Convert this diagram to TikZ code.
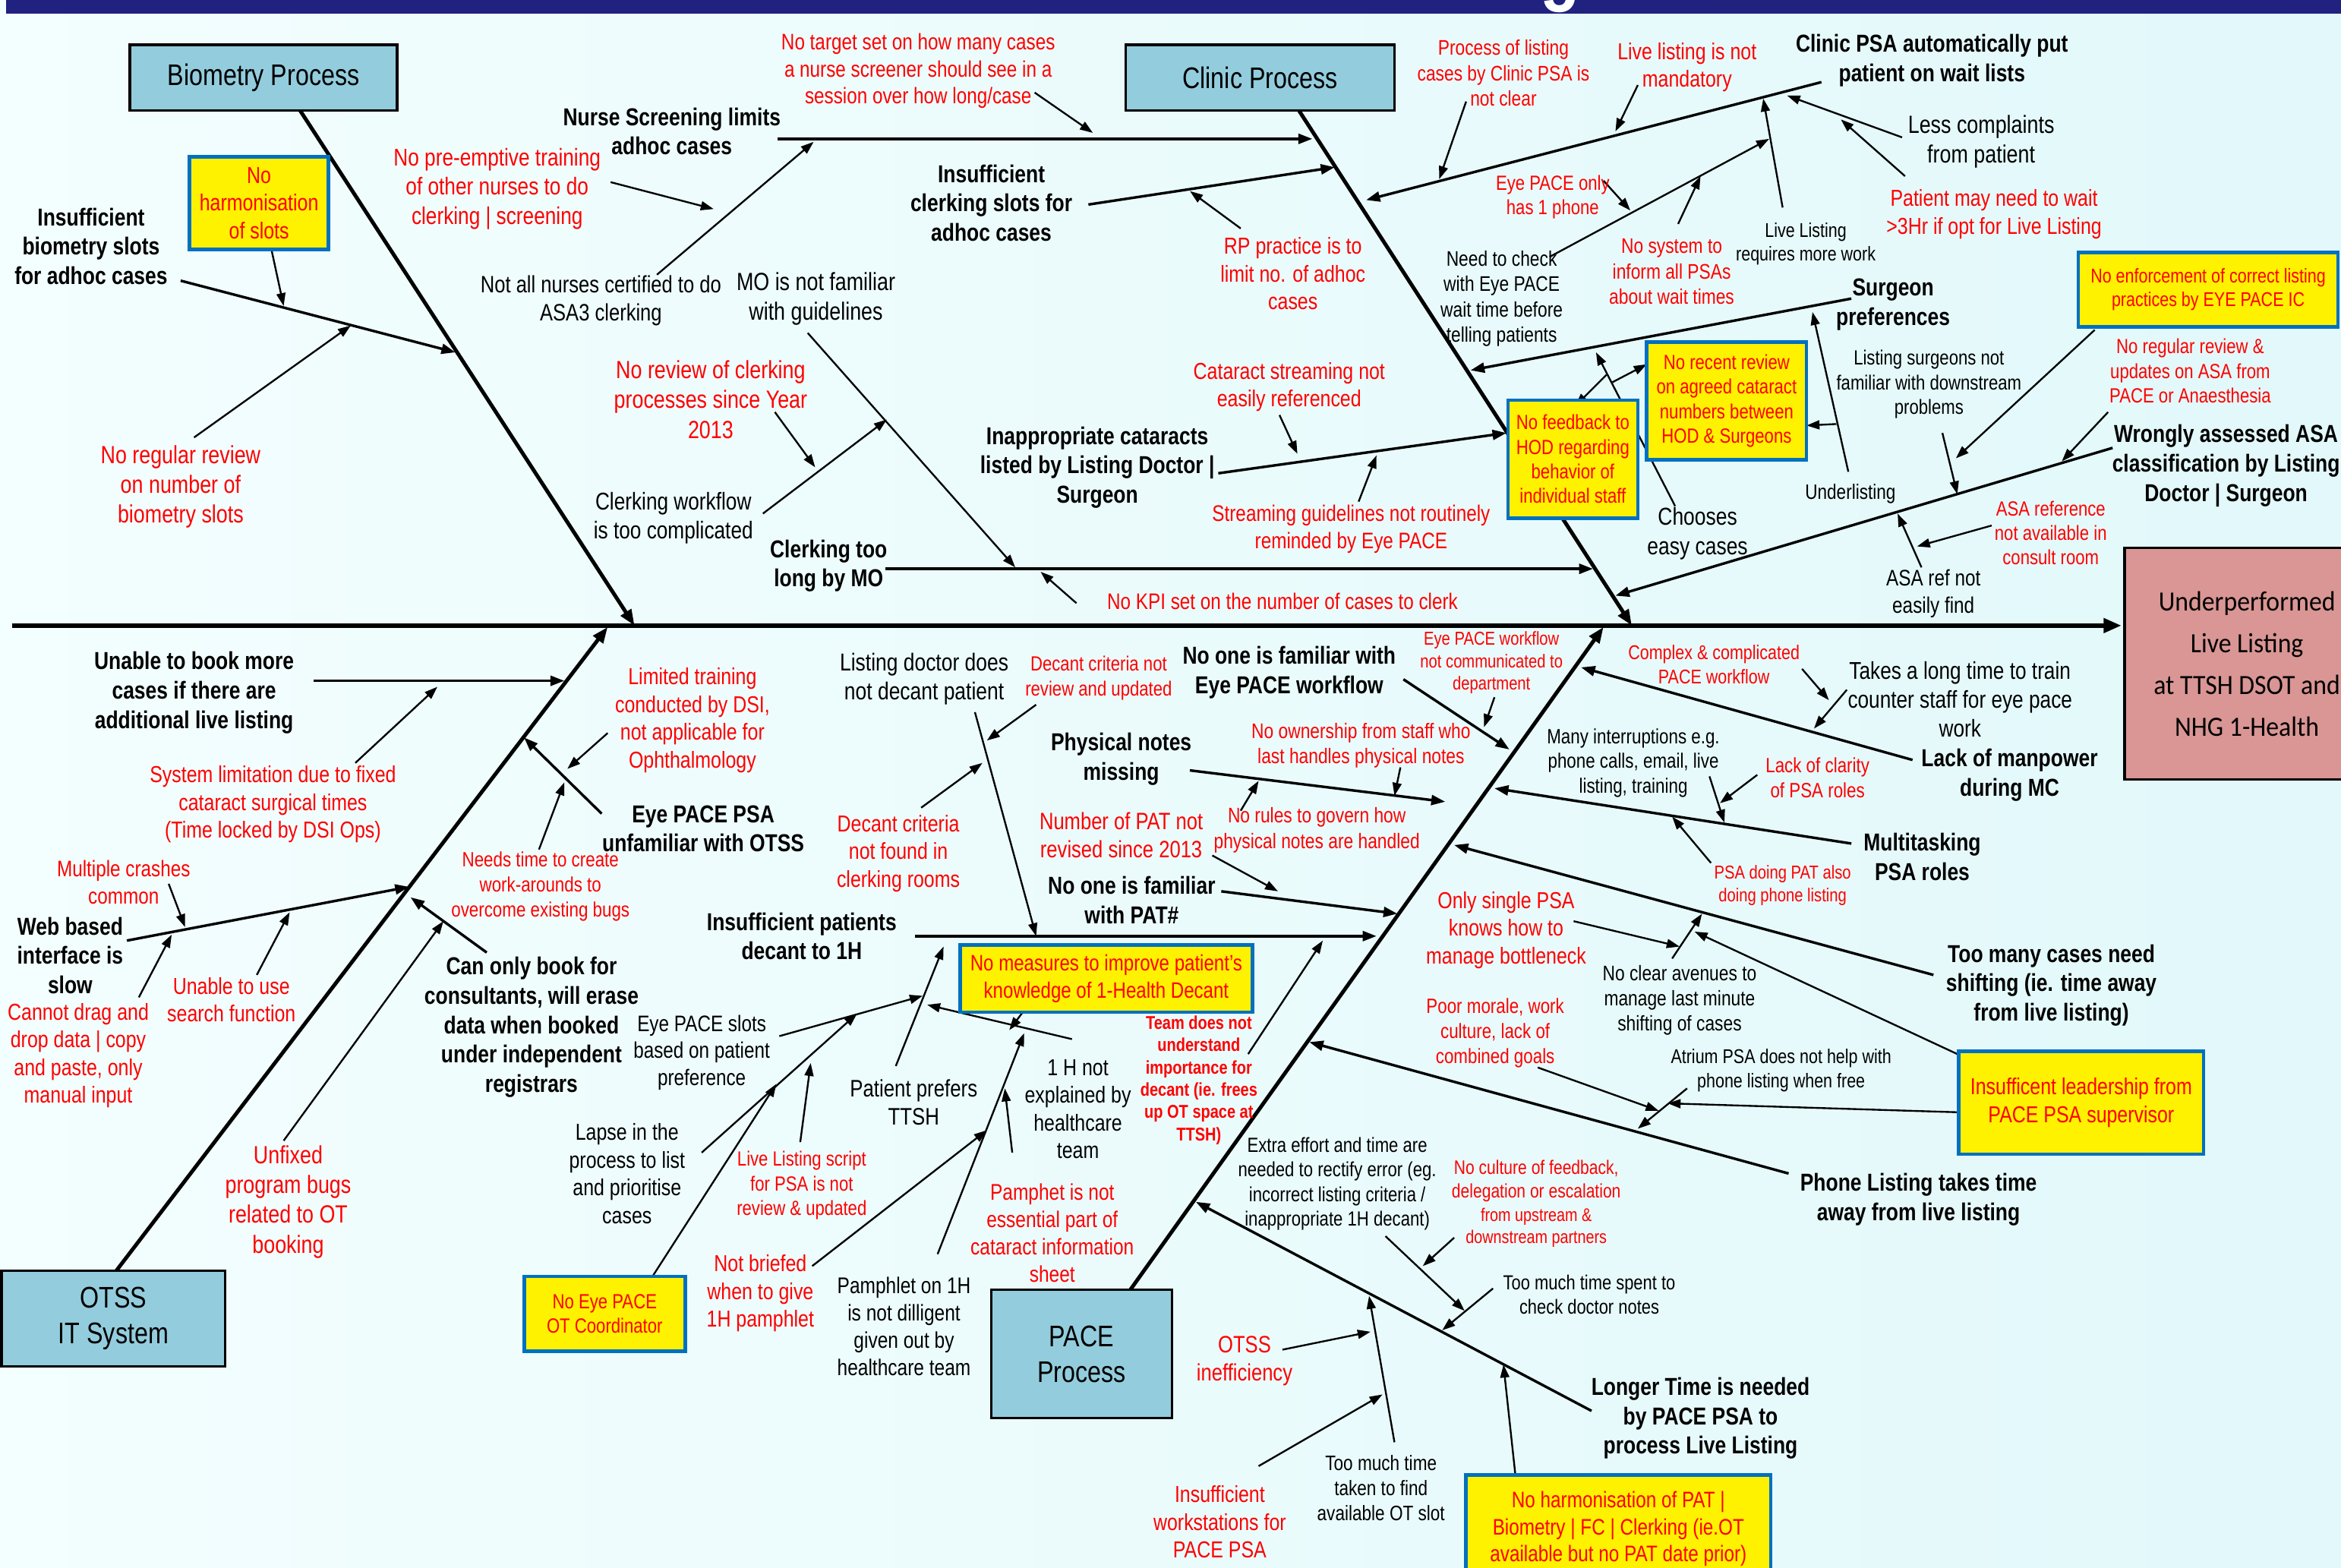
\documentclass[tikz,border=0pt]{standalone}
\usepackage{fontspec}
\setmainfont{Liberation Sans}[FakeStretch=0.82]
\newfontfamily\calfont{Carlito}[FakeStretch=0.92]
\usepackage{tikz}
\usetikzlibrary{arrows.meta}
\definecolor{NavyBar}{RGB}{33,33,128}
\definecolor{CatBlue}{RGB}{147,205,221}
\definecolor{EffPink}{RGB}{217,150,148}
\definecolor{BoxBlue}{RGB}{0,112,192}
\definecolor{BgLeft}{RGB}{243,254,254}
\definecolor{BgRight}{RGB}{226,248,250}
\newcommand\fsz[1]{\fontsize{#1}{\fpeval{1.2*#1}}\selectfont}
\tikzset{
  txt/.style={align=center, inner sep=0pt, font=\fsz{#1}},
  bld/.style={align=center, inner sep=0pt, font=\fsz{#1}\bfseries},
  rtxt/.style={txt=#1, text=red},
  rbld/.style={bld=#1, text=red},
  boxsz/.style 2 args={minimum width=#1*0.75pt, minimum height=#2*0.75pt},
  catbox/.style={draw, line width=1.2pt, fill=CatBlue, inner sep=0pt, align=center, font=\fsz{15}},
  ybox/.style={draw=BoxBlue, line width=1.8pt, fill=yellow, text=red, inner sep=0pt, align=center, font=\fsz{#1}},
  spine/.style={line width=2.25pt, -{Triangle[length=9pt,width=7pt]}},
  bone/.style={line width=1.9pt, -{Triangle[length=8pt,width=6pt]}},
  limb/.style={line width=1.3pt, -{Triangle[length=7pt,width=5pt]}},
  twig/.style={line width=0.9pt, -{Triangle[length=6.5pt,width=4.5pt]}},
}

\begin{document}
\begin{tikzpicture}[x=0.75pt,y=0.75pt,yscale=-1,xscale=1]
\useasboundingbox (0,0) rectangle (1568,1050);

%Background
\shade[left color=BgLeft, right color=BgRight] (0,0) rectangle (1568,1050);
\fill[NavyBar] (4,0) rectangle (1568,9);
\begin{scope}
\clip (4,0) rectangle (1568,9);
\node[white, font=\fontsize{40}{40}\selectfont\bfseries, anchor=base, inner sep=0pt] (titleG) at (1045,-3) {g};
\end{scope}

%Spine
\coordinate (spA) at (8,419);
\coordinate (spB) at (1421,419);
\draw[spine] (spA) -- (spB);

%Bones
\foreach \n/\xa/\ya/\xb/\yb in {bio/201/74/425/419, cln/870/74/1093/419, ots/78/851/407/420, pac/757/864/1074/420}{
  \coordinate (\n-a) at (\xa,\ya);
  \coordinate (\n-b) at (\xb,\yb);
  \draw[bone] (\n-a) -- (\n-b);
}

%Straight Lines (causes)
\foreach \n/\xa/\ya/\xb/\yb in {
  insBio/121/188/305/236, nurse/521/93/879/93, insClk/729/137/894/112,
  clkLong/593/381/1067/381, inapp/816/317/1009/290, psa/1220/55/915/134,
  surg/1240/200/985/248, wrong/1415/300/1082/399, unable/210/456/378/456,
  web/85/630/274/594, can/326/638/275/601, eyePsa/403/545/351/494,
  famWf/940/455/1011/502, phys/797/516/968/537, famPat/818/597/936/612,
  insDec/613/627/922/627, lack/1281/509/1059/447, multi/1240/565/1001/528,
  tooMany/1295/653/974/566, phone/1198/786/877/698, longer/1066/945/801/805}{
  \coordinate (\n-a) at (\xa,\ya);
  \coordinate (\n-b) at (\xb,\yb);
  \draw[limb] (\n-a) -- (\n-b);
}

%Straight Lines (sub causes)
\foreach \n/\xa/\ya/\xb/\yb in {
  harm/182/168/190/205, noReg/130/293/235/218, target/693/62/732/89,
  pre/409/122/478/140, notAll/440/184/545/95, rp/831/153/797/128,
  mo/541/223/680/380, wf/511/344/594/281, rev/519/276/546/313,
  kpi/721/404/697/383, cat/857/278/869/304, str/910/336/922/305,
  proc/982/68/964/120, live/1097/57/1082/88, less/1274/92/1197/64,
  wait/1276/118/1233/80, req/1194/139/1181/66, chk/1038/172/1185/93,
  one/1074/121/1092/141, sys/1124/150/1139/118, ls/1301/290/1311/331,
  under/1238/316/1214/209, underRec/1230/284/1210/285, cho/1122/339/1069/236,
  choFb/1076/251/1055/272, choRec/1080/256/1103/244, enf/1403/221/1310/307,
  asaRev/1412/276/1381/309, asaRef/1287/380/1271/344, asaNa/1334/352/1284/366,
  sysLim/238/511/293/460, crash/113/592/124/621, drag/93/668/115/626,
  search/172/653/194/611, unfix/190/764/297/617, lim/407/491/380/515,
  needs/361/569/378/524, ewf/1001/467/994/487, own/938/514/934/533,
  rules/831/543/843/523, patNot/812/573/856/597, ldoc/653/477/694/627,
  dcn/694/472/661/496, dcf/617/541/658/511, slots/522/694/618/667,
  lapse/470/772/574/679, otc/437/855/520/726, scr/536/765/543/712,
  pref/600/714/632/634, oneH/718/696/621/673, meas/685/678/676/690,
  team/836/706/886/630, pam/628/840/686/692, pamt/678/772/673/729,
  brief/544/848/661/757, cplx/1207/448/1225/469, takes/1237/462/1215/488,
  many/1145/520/1155/551, clar/1177/519/1152/538, doing/1146/578/1120/547,
  single/1054/617/1125/634, clear/1120/642/1140/612, leadTop/1311/706/1135/624,
  leadSide/1312/745/1117/739, atr/1130/729/1097/756, morale/1030/715/1111/744,
  extra/928/828/981/878, spent/1000/863/966/891, cult/974/829/953/848,
  otss/859/904/918/892, taken/934/966/917/868, work/843/982/926/934,
  harmPat/1015/988/1007/914}{
  \coordinate (\n-a) at (\xa,\ya);
  \coordinate (\n-b) at (\xb,\yb);
  \draw[twig] (\n-a) -- (\n-b);
}

%Category boxes
\node[catbox, boxsz={179}{44}] (bioBox) at (176.5,52) {Biometry Process};
\node[catbox, boxsz={180}{44}] (clnBox) at (844,52) {Clinic Process};
\node[catbox, boxsz={150}{64}] (otsBox) at (76,883) {OTSS\\IT System};
\node[catbox, boxsz={121}{86}] (pacBox) at (724.5,907) {PACE\\Process};
\node[draw, line width=1.2pt, fill=EffPink, inner sep=0pt, align=center, boxsz={164}{155}, font=\calfont\fontsize{14}{21}\selectfont] (effect) at (1505,444.5) {Underperformed\\Live Listing\\at TTSH DSOT and\\NHG 1-Health};

%Yellow boxes
\node[ybox=11.6, boxsz={93}{62}] (yHarm) at (173.5,136) {No\\harmonisation\\of slots};
\node[ybox=10.3, boxsz={87}{79}] (yFeedback) at (1053.5,307.5) {No feedback to\\HOD regarding\\behavior of\\individual staff};
\node[ybox=10.3, boxsz={107}{79}] (yRecent) at (1156.5,268.5) {No recent review\\on agreed cataract\\numbers between\\HOD \& Surgeons};
\node[ybox=10.0, boxsz={174}{50}] (yEnforce) at (1479,194) {No enforcement of correct listing\\practices by EYE PACE IC};
\node[ybox=11.2, boxsz={196}{45}] (yMeasures) at (741,655.5) {No measures to improve patient's\\knowledge of 1-Health Decant};
\node[ybox=10.3, boxsz={108}{50}] (yOTcoord) at (405,880) {No Eye PACE\\OT Coordinator};
\node[ybox=11.6, boxsz={164}{69}] (yLeader) at (1394,738.5) {Insufficent leadership from\\PACE PSA supervisor};
\node[ybox=11.3, boxsz={204}{72}] (yHarmPat) at (1084,1024) {No harmonisation of PAT |\\Biometry | FC | Clerking (ie.OT\\available but no PAT date prior)};

% Text Node (main causes)
\node[bld=12.3] (bInsBio) at (61,165) {Insufficient\\biometry slots\\for adhoc cases};
\node[bld=12.3] (bNurse) at (450,88) {Nurse Screening limits\\adhoc cases};
\node[bld=12.3] (bInsClerk) at (664,136) {Insufficient\\clerking slots for\\adhoc cases};
\node[bld=12.3] (bClerkLong) at (555,379) {Clerking too\\long by MO};
\node[bld=12.3] (bInapp) at (735,313) {Inappropriate cataracts\\listed by Listing Doctor |\\Surgeon};
\node[bld=12.3] (bClinicPSA) at (1294,40.5) {Clinic PSA automatically put\\patient on wait lists};
\node[bld=12.3] (bSurgeon) at (1268,204) {Surgeon\\preferences};
\node[bld=12.3] (bWrong) at (1491,312) {Wrongly assessed ASA\\classification by Listing\\Doctor | Surgeon};
\node[bld=12.3] (bUnable) at (130,464) {Unable to book more\\cases if there are\\additional live listing};
\node[bld=12.3] (bWeb) at (47,640) {Web based\\interface is\\slow};
\node[bld=12.3] (bCanOnly) at (356,688) {Can only book for\\consultants, will erase\\data when booked\\under independent\\registrars};
\node[bld=12.3] (bEyePSA) at (471,555) {Eye PACE PSA\\unfamiliar with OTSS};
\node[bld=12.3] (bFamWork) at (863.5,450.5) {No one is familiar with\\Eye PACE workflow};
\node[bld=12.3] (bPhys) at (751,508.5) {Physical notes\\missing};
\node[bld=12.3] (bFamPAT) at (758,603) {No one is familiar\\with PAT\#};
\node[bld=12.3] (bInsDecant) at (537,627) {Insufficient patients\\decant to 1H};
\node[bld=12.3] (bLack) at (1346,519) {Lack of manpower\\during MC};
\node[bld=12.3] (bMulti) at (1287.5,574) {Multitasking\\PSA roles};
\node[bld=12.3] (bTooMany) at (1374,660) {Too many cases need\\shifting (ie. time away\\from live listing)};
\node[bld=12.3] (bPhone) at (1285,803.5) {Phone Listing takes time\\away from live listing};
\node[bld=12.3] (bLonger) at (1139,950) {Longer Time is needed\\by PACE PSA to\\process Live Listing};

% Text Node (red)
\node[rtxt=12.5] (rNoReg) at (121,326) {No regular review\\on number of\\biometry slots};
\node[rtxt=12.2] (rPreempt) at (333,126.5) {No pre-emptive training\\of other nurses to do\\clerking | screening};
\node[rtxt=11.3] (rTarget) at (615,47.5) {No target set on how many cases\\a nurse screener should see in a\\session over how long/case};
\node[rtxt=12.5] (rNoReview) at (476,267.6) {No review of clerking\\processes since Year\\2013};
\node[rtxt=11.6] (rRP) at (866,183.3) {RP practice is to\\limit no. of adhoc\\cases};
\node[rtxt=11.6] (rCatStream) at (863.5,259.3) {Cataract streaming not\\easily referenced};
\node[rtxt=11.3] (rStream) at (905,354.5) {Streaming guidelines not routinely\\reminded by Eye PACE};
\node[rtxt=11.3] (rNoKPI) at (859,403) {No KPI set on the number of cases to clerk};
\node[rtxt=10.6] (rProcess) at (1007,49) {Process of listing\\cases by Clinic PSA is\\not clear};
\node[rtxt=11.6] (rLiveNot) at (1130,45) {Live listing is not\\mandatory};
\node[rtxt=11.6] (rWait) at (1335.6,143.4) {Patient may need to wait\\>3Hr if opt for Live Listing};
\node[rtxt=10.3] (rEyeOnly) at (1040,132) {Eye PACE only\\has 1 phone};
\node[rtxt=10.6] (rNoSystem) at (1119.7,182) {No system to\\inform all PSAs\\about wait times};
\node[rtxt=10.3] (rNoRegASA) at (1467,248.5) {No regular review \&\\updates on ASA from\\PACE or Anaesthesia};
\node[rtxt=10.3] (rASAref) at (1373.6,357) {ASA reference\\not available in\\consult room};
\node[rtxt=11.6] (rSysLim) at (182.8,538.7) {System limitation due to fixed\\cataract surgical times\\(Time locked by DSI Ops)};
\node[rtxt=11.3] (rCrash) at (82.8,590.8) {Multiple crashes\\common};
\node[rtxt=11.6] (rDrag) at (52.4,707) {Cannot drag and\\drop data | copy\\and paste, only\\manual input};
\node[rtxt=11.6] (rSearch) at (155,669.5) {Unable to use\\search function};
\node[rtxt=12.5] (rUnfixed) at (193,805) {Unfixed\\program bugs\\related to OT\\booking};
\node[rtxt=11.6] (rLimited) at (463.8,482.5) {Limited training\\conducted by DSI,\\not applicable for\\Ophthalmology};
\node[rtxt=10.4] (rNeeds) at (362,593.7) {Needs time to create\\work-arounds to\\overcome existing bugs};
\node[rtxt=9.4] (rEyeWork) at (999,444) {Eye PACE workflow\\not communicated to\\department};
\node[rtxt=10.6] (rOwnership) at (911.6,499.3) {No ownership from staff who\\last handles physical notes};
\node[rtxt=10.6] (rRules) at (882,556) {No rules to govern how\\physical notes are handled};
\node[rtxt=11.9] (rPATnot) at (751,559.5) {Number of PAT not\\revised since 2013};
\node[rtxt=10.3] (rDecantNot) at (735.9,454.2) {Decant criteria not\\review and updated};
\node[rtxt=11.6] (rDecantFound) at (601.7,571.7) {Decant criteria\\not found in\\clerking rooms};
\node[rtxt=10.3] (rLiveScript) at (537,794) {Live Listing script\\for PSA is not\\review \& updated};
\node[rtxt=11.6] (rNotBriefed) at (509.3,866.2) {Not briefed\\when to give\\1H pamphlet};
\node[rtxt=11.4] (rPamphet) at (704.8,826) {Pamphet is not\\essential part of\\cataract information\\sheet};
\node[rbld=9.3] (rTeam) at (803,723.5) {Team does not\\understand\\importance for\\decant (ie. frees\\up OT space at\\TTSH)};
\node[rtxt=10.0] (rComplex) at (1148,445) {Complex \& complicated\\PACE workflow};
\node[rtxt=10.4] (rClarity) at (1217.4,521) {Lack of clarity\\of PSA roles};
\node[rtxt=9.4] (rPSAdoing) at (1194,593) {PSA doing PAT also\\doing phone listing};
\node[rtxt=11.6] (rSingle) at (1008.8,623) {Only single PSA\\knows how to\\manage bottleneck};
\node[rtxt=10.4] (rMorale) at (1001.5,692) {Poor morale, work\\culture, lack of\\combined goals};
\node[rtxt=9.8] (rCulture) at (1029,791) {No culture of feedback,\\delegation or escalation};
\node[rtxt=9.2] (rCultureSub) at (1029,822.4) {from upstream \&\\downstream partners};
\node[rtxt=11.9] (rOTSSineff) at (833.6,911.5) {OTSS\\inefficiency};
\node[rtxt=11.6] (rWorkst) at (817,1019.5) {Insufficient\\workstations for\\PACE PSA};

% Text Node (black)
\node[txt=11.9] (kNotAll) at (402.5,201.5) {Not all nurses certified to do\\ASA3 clerking};
\node[txt=12.5] (kMO) at (546.5,200) {MO is not familiar\\with guidelines};
\node[txt=12.2] (kClerkWF) at (451,347) {Clerking workflow\\is too complicated};
\node[txt=12.5] (kLess) at (1327,95) {Less complaints\\from patient};
\node[txt=10.0] (kLiveReq) at (1209.5,163.5) {Live Listing\\requires more work};
\node[txt=10.6] (kNeedCheck) at (1005.8,200) {Need to check\\with Eye PACE\\wait time before\\telling patients};
\node[txt=10.3] (kListSurg) at (1292,257.5) {Listing surgeons not\\familiar with downstream\\problems};
\node[txt=10.5] (kUnder) at (1239.4,330.7) {Underlisting};
\node[txt=12.3] (kChooses) at (1137,357.5) {Chooses\\easy cases};
\node[txt=11.3] (kASAref) at (1295,397.6) {ASA ref not\\easily find};
\node[txt=12.3] (kListDoc) at (619,454.8) {Listing doctor does\\not decant patient};
\node[txt=11.3] (kEyeSlots) at (470,705) {Eye PACE slots\\based on patient\\preference};
\node[txt=11.6] (kLapse) at (420,786) {Lapse in the\\process to list\\and prioritise\\cases};
\node[txt=12.0] (kPrefers) at (612,738.4) {Patient prefers\\TTSH};
\node[txt=11.6] (k1H) at (722,743) {1 H not\\explained by\\healthcare\\team};
\node[txt=11.4] (kPamphlet) at (605.5,888.5) {Pamphlet on 1H\\is not dilligent\\given out by\\healthcare team};
\node[txt=10.4] (kManyInt) at (1094,511) {Many interruptions e.g.\\phone calls, email, live\\listing, training};
\node[txt=12.2] (kTakes) at (1312.8,468.5) {Takes a long time to train\\counter staff for eye pace\\work};
\node[txt=10.6] (kNoClear) at (1125,670) {No clear avenues to\\manage last minute\\shifting of cases};
\node[txt=10.0] (kAtrium) at (1193,717) {Atrium PSA does not help with\\phone listing when free};
\node[txt=10.3] (kExtra) at (895.7,793) {Extra effort and time are\\needed to rectify error (eg.\\incorrect listing criteria /\\inappropriate 1H decant)};
\node[txt=10.2] (kTooMuchSpent) at (1064.5,867) {Too much time spent to\\check doctor notes};
\node[txt=10.5] (kTooMuchTaken) at (925,996.7) {Too much time\\taken to find\\available OT slot};

\end{tikzpicture}
\end{document}
